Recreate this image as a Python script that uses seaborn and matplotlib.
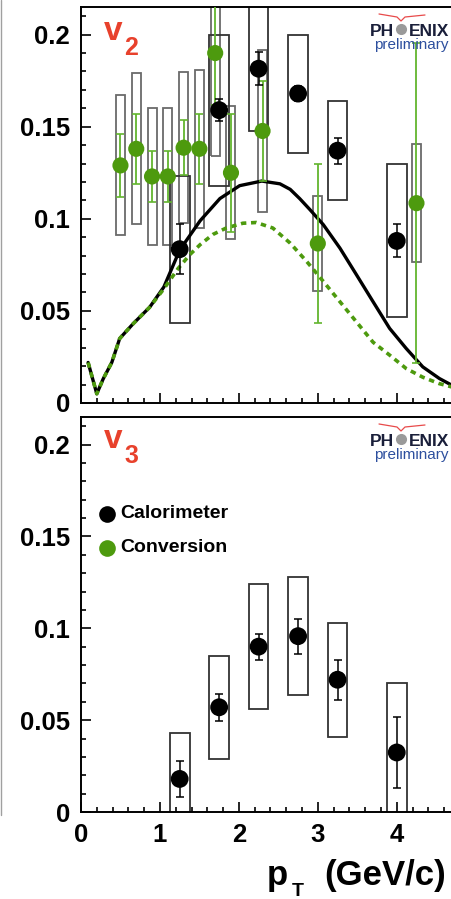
import numpy as np
import pandas as pd
import matplotlib
matplotlib.use("Agg")
import matplotlib.pyplot as plt
import seaborn as sns
from matplotlib.patches import Rectangle
from matplotlib.lines import Line2D
from matplotlib.ticker import MultipleLocator, FuncFormatter

# ---------------- data ----------------
# v2, calorimeter (black)
cal_v2_x = [1.25, 1.75, 2.25, 2.75, 3.25, 4.0]
cal_v2_y = [0.0835, 0.159, 0.1815, 0.168, 0.137, 0.088]
cal_v2_stat = [0.0135, 0.006, 0.009, 0.004, 0.007, 0.009]
cal_v2_sys = [0.040, 0.041, 0.034, 0.032, 0.027, 0.0415]

# v2, conversion (green)
conv_v2_x = [0.5, 0.7, 0.9, 1.1, 1.3, 1.5, 1.7, 1.9, 2.3, 3.0, 4.25]
conv_v2_y = [0.129, 0.138, 0.123, 0.123, 0.1386, 0.138, 0.190, 0.125, 0.1477, 0.0866, 0.1085]
conv_v2_stat = [0.017, 0.019, 0.014, 0.014, 0.015, 0.019, 0.028, 0.032, 0.027, 0.043, 0.087]
conv_v2_sys = [0.038, 0.041, 0.037, 0.037, 0.041, 0.043, 0.056, 0.036, 0.044, 0.026, 0.032]

# v2 model curves
model_black_x = [0.09, 0.2, 0.28, 0.39, 0.49, 0.66, 0.87, 1.05, 1.25, 1.51, 1.76, 2.01, 2.29,
                 2.52, 2.65, 2.77, 2.9, 3.07, 3.28, 3.49, 3.70, 3.91, 4.12, 4.33, 4.54, 4.70]
model_black_y = [0.022, 0.005, 0.013, 0.022, 0.035, 0.043, 0.052, 0.063, 0.083, 0.099, 0.111,
                 0.118, 0.1205, 0.119, 0.116, 0.111, 0.105, 0.0968, 0.0841, 0.0696, 0.055,
                 0.0405, 0.0296, 0.0196, 0.0133, 0.0096]
model_green_x = [0.09, 0.2, 0.28, 0.39, 0.49, 0.66, 0.87, 1.05, 1.23, 1.38, 1.51, 1.67, 1.84,
                 2.05, 2.22, 2.43, 2.65, 2.86, 3.07, 3.28, 3.49, 3.70, 3.91, 4.12, 4.33, 4.54, 4.70]
model_green_y = [0.022, 0.005, 0.013, 0.022, 0.035, 0.043, 0.052, 0.062, 0.073, 0.0806, 0.086,
                 0.0915, 0.095, 0.0976, 0.098, 0.095, 0.0868, 0.0768, 0.066, 0.055, 0.044,
                 0.033, 0.026, 0.0187, 0.014, 0.0105, 0.0087]

# v3, calorimeter (black)
cal_v3_x = [1.25, 1.75, 2.25, 2.75, 3.25, 4.0]
cal_v3_y = [0.018, 0.057, 0.090, 0.0957, 0.072, 0.0324]
cal_v3_stat = [0.0098, 0.0073, 0.007, 0.0095, 0.011, 0.0195]
cal_v3_sys = [0.025, 0.028, 0.034, 0.032, 0.031, 0.038]

legend_labels = ["Calorimeter", "Conversion"]
panel_labels = [("v", "2"), ("v", "3")]
xlabel_parts = ("p", "T", "(GeV/c)")

# ---------------- style ----------------
sns.set_theme(style="white")
plt.rcParams["font.family"] = ["Liberation Sans", "DejaVu Sans"]

RED = "#e8412c"
GREEN = "#4d9a0e"
GREEN_ERR = "#62b52e"
W, H = 452, 899

fig = plt.figure(figsize=(W / 100, H / 100), dpi=100)


def fx(px):
    return px / W


def fy(py):
    return 1 - py / H


ax1 = fig.add_axes([fx(81), fy(403), fx(452) - fx(81), fy(7) - fy(403)])
ax2 = fig.add_axes([fx(81), fy(812), fx(452) - fx(81), fy(417) - fy(812)])


def boxes(ax, xs, ys, sys_err, hw, ec, lw, z):
    for xi, yi, si in zip(xs, ys, sys_err):
        ax.add_patch(Rectangle((xi - hw, yi - si), 2 * hw, 2 * si, fill=False,
                               ec=ec, lw=lw, zorder=z))


def style_axis(ax, show_xlabels):
    ax.set_xlim(0, 4.70)
    ax.set_ylim(0, 0.215)
    ax.xaxis.set_major_locator(MultipleLocator(1))
    ax.xaxis.set_minor_locator(MultipleLocator(0.2))
    ax.yaxis.set_major_locator(MultipleLocator(0.05))
    ax.yaxis.set_minor_locator(MultipleLocator(0.01))
    ax.tick_params(which="both", direction="in", left=True, bottom=True,
                   top=False, right=False, color="black", width=1.2)
    ax.tick_params(which="major", length=7.5)
    ax.tick_params(which="minor", length=3.8)
    ax.tick_params(axis="y", which="major", pad=8, labelsize=18.5, labelcolor="black")
    ax.tick_params(axis="x", which="major", pad=8, labelsize=18.5, labelcolor="black")
    ax.yaxis.set_major_formatter(FuncFormatter(lambda v, p: "0" if abs(v) < 1e-9 else f"{v:g}"))
    ax.xaxis.set_major_formatter(FuncFormatter(lambda v, p: f"{v:g}"))
    for lab in ax.get_yticklabels() + ax.get_xticklabels():
        lab.set_fontweight("bold")
    if not show_xlabels:
        ax.set_xticklabels([])
    for s in ax.spines.values():
        s.set_color("black")
        s.set_linewidth(1.4)
    ax.set_xlabel("")
    ax.set_ylabel("")
    ax.set_facecolor("white")


# ---------------- top panel: v2 ----------------
boxes(ax1, conv_v2_x, conv_v2_y, conv_v2_sys, 0.057, "#6a6a6a", 1.3, 2)
boxes(ax1, cal_v2_x, cal_v2_y, cal_v2_sys, 0.125, "#333333", 1.3, 2)

sns.lineplot(x=model_black_x, y=model_black_y, ax=ax1, color="black", lw=2.4,
             sort=False, estimator=None, zorder=3)
sns.lineplot(x=model_green_x, y=model_green_y, ax=ax1, color=GREEN, lw=2.6,
             sort=False, estimator=None, zorder=3)
ax1.lines[-1].set_linestyle((0, (1.5, 1.3)))
ax1.lines[-1].set_dash_capstyle("butt")

ax1.errorbar(conv_v2_x, conv_v2_y, yerr=conv_v2_stat, fmt="none", ecolor=GREEN_ERR,
             elinewidth=1.3, capsize=3, capthick=1.2, zorder=4)
ax1.errorbar(cal_v2_x, cal_v2_y, yerr=cal_v2_stat, fmt="none", ecolor="black",
             elinewidth=1.1, capsize=3, capthick=1.1, zorder=4)
sns.scatterplot(x=conv_v2_x, y=conv_v2_y, ax=ax1, color=GREEN, s=135, edgecolor="none",
                zorder=5, legend=False)
sns.scatterplot(x=cal_v2_x, y=cal_v2_y, ax=ax1, color="black", s=165, edgecolor="none",
                zorder=6, legend=False)
style_axis(ax1, False)

# ---------------- bottom panel: v3 ----------------
boxes(ax2, cal_v3_x, cal_v3_y, cal_v3_sys, 0.125, "#333333", 1.3, 2)
ax2.errorbar(cal_v3_x, cal_v3_y, yerr=cal_v3_stat, fmt="none", ecolor="black",
             elinewidth=1.1, capsize=3, capthick=1.1, zorder=4)
sns.scatterplot(x=cal_v3_x, y=cal_v3_y, ax=ax2, color="black", s=165, edgecolor="none",
                zorder=6, legend=False)
style_axis(ax2, True)

# legend (manual)
for (py, col, lab) in [(514, "black", legend_labels[0]), (548, GREEN, legend_labels[1])]:
    fig.add_artist(Line2D([fx(107)], [fy(py)], marker="o", ms=12, color=col,
                          markeredgecolor="none", linestyle="none"))
    fig.text(fx(120), fy(py), lab, fontsize=14, fontweight="bold", color="black",
             va="center", ha="left")

# panel labels v2 / v3
for (base_v, base_s, (v, sub)) in [(40, 55, panel_labels[0]), (448, 463, panel_labels[1])]:
    fig.text(fx(104), fy(base_v), v, fontsize=24, fontweight="bold", color=RED,
             va="baseline", ha="left")
    fig.text(fx(124), fy(base_s), sub, fontsize=18, fontweight="bold", color=RED,
             va="baseline", ha="left")

# PHENIX preliminary logos
for off in (0, 410):
    fig.text(fx(370), fy(36 + off), "PH", fontsize=12.5, fontweight="bold", color="#1a1f3a",
             va="baseline", ha="left")
    fig.text(fx(449), fy(36 + off), "ENIX", fontsize=12.5, fontweight="bold", color="#1a1f3a",
             va="baseline", ha="right")
    fig.add_artist(Line2D([fx(401)], [fy(29 + off)], marker="o", ms=8, color="#9a9a9a",
                          markeredgecolor="none", linestyle="none"))
    fig.text(fx(449), fy(49 + off), "preliminary", fontsize=11, color="#2d4f9e",
             va="baseline", ha="right")
    bx = [379, 397, 401, 405, 425]
    by = [14, 17, 21, 17, 15]
    fig.add_artist(Line2D([fx(v) for v in bx], [fy(v + off) for v in by], color="#e84a4a", lw=0.9))

# x axis title
fig.text(fx(267), fy(885), xlabel_parts[0], fontsize=25, fontweight="bold", color="black",
         va="baseline", ha="left")
fig.text(fx(292), fy(896), xlabel_parts[1], fontsize=14, fontweight="bold", color="black",
         va="baseline", ha="left")
fig.text(fx(446), fy(885), xlabel_parts[2], fontsize=25, fontweight="bold", color="black",
         va="baseline", ha="right")

# thin gray border at the far left of the picture
fig.add_artist(Line2D([fx(1), fx(1)], [fy(815), fy(0)], color="#a0a0a0", lw=1))

fig.savefig("out.png", dpi=100, facecolor="white")
